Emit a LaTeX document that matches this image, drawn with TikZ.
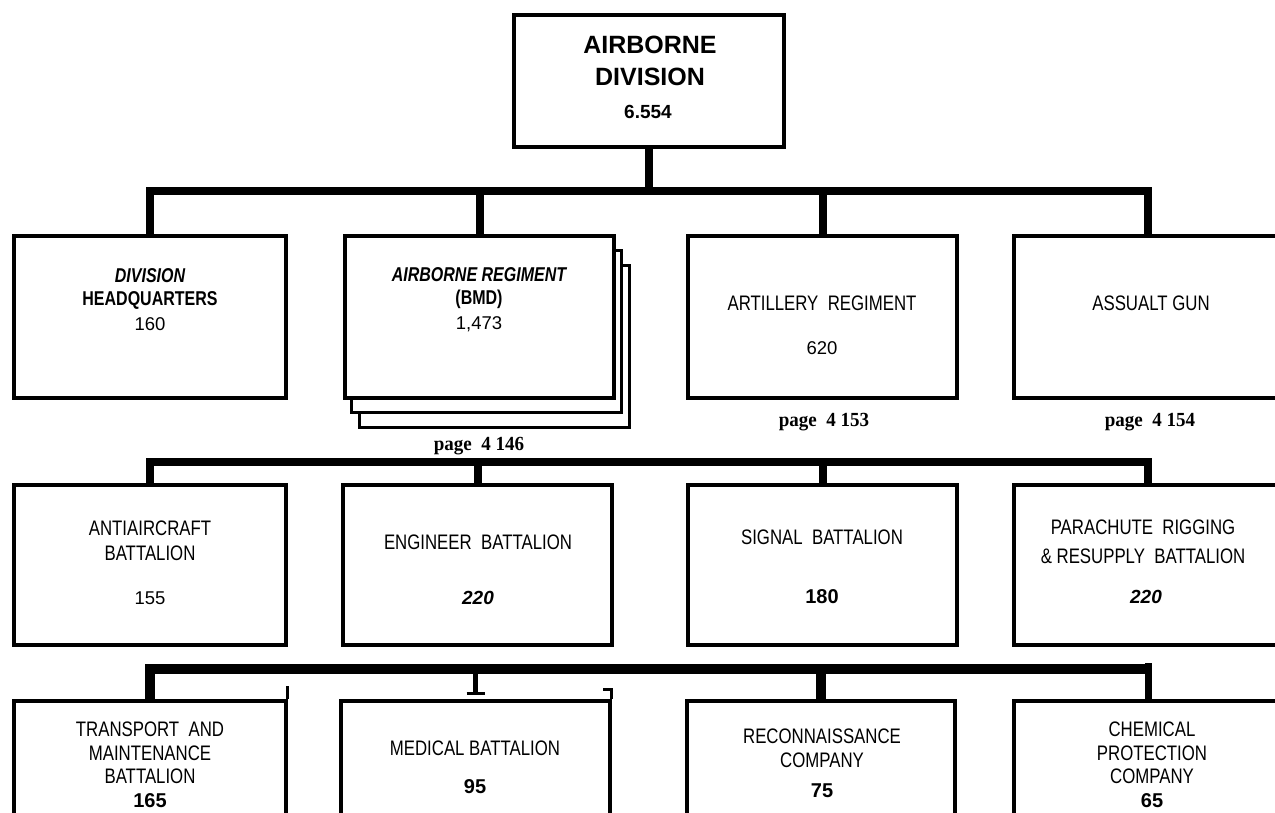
\documentclass[tikz,border=0pt]{standalone}
\usepackage{fontspec}
\setmainfont{Liberation Sans}
\newfontfamily\cond[FakeStretch=0.8]{Liberation Sans}
\newfontfamily\bcond[FakeStretch=0.8]{Liberation Sans}
\newfontfamily\pg[FakeStretch=0.95]{Liberation Serif}
\begin{document}
\begin{tikzpicture}[x=1pt,y=-1pt,
  box/.style={draw,line width=3.5pt,rectangle,inner sep=0pt,fill=white,minimum width=270pt,minimum height=162pt},
  stackbox/.style={box,line width=3pt},
  bus/.style={line width=8pt,line join=miter,line cap=butt},
  lbl/.style={align=center,inner sep=0pt,font=\cond\fontsize{21}{25}\selectfont},
  blbl/.style={align=center,inner sep=0pt,font=\bcond\bfseries\fontsize{20}{23}\selectfont},
  num/.style={inner sep=0pt,font=\fontsize{18.5}{22}\selectfont},
  bnum/.style={inner sep=0pt,font=\bfseries\fontsize{20}{22}\selectfont},
  inum/.style={inner sep=0pt,font=\bfseries\itshape\fontsize{19}{22}\selectfont},
  pagelbl/.style={inner sep=0pt,font=\pg\bfseries\fontsize{20}{22}\selectfont}]
\useasboundingbox (0,0) rectangle (1275,812);
\clip (0,0) rectangle (1275,812);

% top
\node[box,minimum height=132pt] (top) at (649,81) {};
\node[inner sep=0pt,align=center,font=\bfseries\fontsize{25}{32}\selectfont] (topt) at (650,61) {AIRBORNE\\DIVISION};
\node[inner sep=0pt,font=\bfseries\fontsize{19}{22}\selectfont] (topn) at (648,112) {6.554};

% row 1
\coordinate (bus1) at (649,191);
\node[stackbox] (B3) at (494.5,346) {};
\node[stackbox] (B2) at (486.5,331) {};
\node[box,minimum width=272pt] (A) at (150,317) {};
\node[box,minimum width=269pt] (B) at (479.5,317) {};
\node[box,minimum width=269pt] (C) at (822.5,317) {};
\node[box,minimum width=268pt] (D) at (1148,317) {};
\draw[bus] (top.south) -- (top.south |- bus1);
\draw[bus] (A.north) -- (A.north |- bus1) -- (D.north |- bus1) -- (D.north);
\draw[bus] (B.north) -- (B.north |- bus1);
\draw[bus] (C.north) -- (C.north |- bus1);

\node[blbl] (At) at (150,288.5) {{\itshape DIVISION}\\HEADQUARTERS};
\node[num] (An) at (150,324) {160};
\node[blbl] (Bt) at (479,288.5) {{\itshape AIRBORNE REGIMENT}\\(BMD)};
\node[num] (Bn) at (479,324) {1,473};
\node[lbl] (Ct) at (822,303) {ARTILLERY\ \ REGIMENT};
\node[num] (Cn) at (822,348) {620};
\node[lbl] (Dt) at (1151,303) {ASSUALT GUN};
\node[pagelbl] (Bp) at (479,446) {page\ \ 4 146};
\node[pagelbl] (Cp) at (824,422) {page\ \ 4 153};
\node[pagelbl] (Dp) at (1150,422) {page\ \ 4 154};

% row 2
\coordinate (bus2) at (649,462);
\node[box,minimum width=272pt,minimum height=160pt] (a) at (150,565) {};
\node[box,minimum width=269pt,minimum height=160pt] (b) at (477.5,565) {};
\node[box,minimum width=269pt,minimum height=160pt] (c) at (822.5,565) {};
\node[box,minimum width=268pt,minimum height=160pt] (d) at (1148,565) {};
\draw[bus] (a.north) -- (a.north |- bus2) -- (d.north |- bus2) -- (d.north);
\draw[bus] (b.north) -- (b.north |- bus2);
\draw[bus] (c.north) -- (c.north |- bus2);

\node[lbl] (at) at (150,540.5) {ANTIAIRCRAFT\\BATTALION};
\node[num] (an) at (150,598) {155};
\node[lbl] (bt) at (478,542) {ENGINEER\ \ BATTALION};
\node[inum] (bn) at (478,598) {220};
\node[lbl] (ct) at (822,537) {SIGNAL\ \ BATTALION};
\node[bnum] (cn) at (822,597) {180};
\node[lbl,font=\cond\fontsize{21}{29}\selectfont] (dt) at (1143,541.5) {PARACHUTE\ \ RIGGING\\\&\ RESUPPLY\ \ BATTALION};
\node[inum] (dn) at (1146,597) {220};

% row 3
\coordinate (bus3) at (649,669);
\node[box,minimum width=272pt,minimum height=150pt] (e) at (150,776) {};
\node[box,minimum width=269pt,minimum height=150pt] (f) at (475.5,776) {};
\node[box,minimum width=268pt,minimum height=150pt] (g) at (821,776) {};
\node[box,minimum width=268pt,minimum height=150pt] (h) at (1148,776) {};
\draw[bus,line width=10pt] (e.north) -- (e.north |- bus3) -- (h.north |- bus3);
\draw[bus,line width=7pt] ([yshift=6pt]h.north |- bus3) -- (h.north);
\draw[bus,line width=5pt] (f.north |- bus3) -- ([yshift=6pt]f.north);
\draw[line width=3pt] ([xshift=-9pt,yshift=6pt]f.north) -- ([xshift=9pt,yshift=6pt]f.north);
\draw[bus,line width=10pt] (g.north) -- (g.north |- bus3);
\draw[line width=3pt] (e.north east) -- ++(0,-13);
\draw[line width=3pt] (f.north east) -- ++(0,-10) -- ++(-9,0);

\node[lbl,font=\cond\fontsize{21}{23.5}\selectfont] (et) at (150,753) {TRANSPORT\ \ AND\\MAINTENANCE\\BATTALION};
\node[bnum] (en) at (150,801) {165};
\node[lbl] (ft) at (475,748) {MEDICAL BATTALION};
\node[bnum] (fn) at (475,787) {95};
\node[lbl,font=\cond\fontsize{21}{24}\selectfont] (gt) at (822,748) {RECONNAISSANCE\\COMPANY};
\node[bnum] (gn) at (822,791) {75};
\node[lbl,font=\cond\fontsize{21}{23.5}\selectfont] (ht) at (1152,753) {CHEMICAL\\PROTECTION\\COMPANY};
\node[bnum] (hn) at (1152,801) {65};
\end{tikzpicture}
\end{document}
